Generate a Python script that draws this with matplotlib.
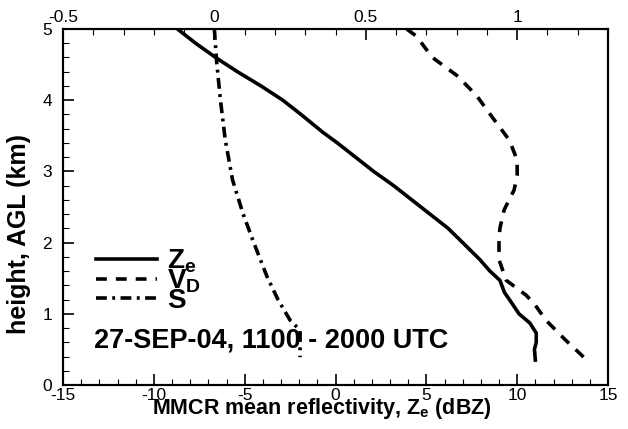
import numpy as np
import matplotlib
matplotlib.use("Agg")
import matplotlib.pyplot as plt

# Ze profile (bottom axis, dBZ)
ze_height = [5.0, 4.8, 4.6, 4.4, 4.2, 4.0, 3.8, 3.55, 3.4, 3.2, 3.0, 2.8, 2.6,
             2.4, 2.2, 2.0, 1.76, 1.6, 1.47, 1.3, 1.19, 1.0, 0.87, 0.73, 0.6, 0.5, 0.35]
ze_dbz = [-8.7, -7.7, -6.6, -5.4, -4.1, -2.9, -1.9, -0.7, 0.1, 1.1, 2.1, 3.2, 4.2,
          5.2, 6.2, 7.0, 7.95, 8.5, 9.05, 9.3, 9.6, 10.1, 10.7, 11.05, 11.05, 10.95, 11.0]

# Doppler velocity profile (top axis)
vd_height = [5.0, 4.9, 4.6, 4.35, 4.07, 3.76, 3.44, 3.16, 2.95, 2.74, 2.46, 2.2,
             2.04, 1.76, 1.47, 1.26, 1.12, 0.91, 0.63, 0.39]
vd_val = [0.635, 0.667, 0.72, 0.80, 0.865, 0.918, 0.974, 1.0, 1.0, 0.99, 0.957, 0.943,
          0.94, 0.94, 0.964, 1.03, 1.06, 1.095, 1.16, 1.22]

# S profile (top axis)
s_height = [5.0, 4.56, 4.0, 3.44, 2.88, 2.4, 2.0, 1.52, 1.2, 0.91, 0.77, 0.6, 0.39]
s_val = [0.0, 0.007, 0.02, 0.036, 0.06, 0.095, 0.13, 0.174, 0.21, 0.25, 0.283, 0.283, 0.283]

plt.rcParams['font.family'] = ['Liberation Sans', 'DejaVu Sans']
plt.rcParams['axes.unicode_minus'] = False
plt.rcParams['mathtext.fontset'] = 'custom'
plt.rcParams['mathtext.rm'] = 'Liberation Sans:bold'
plt.rcParams['mathtext.bf'] = 'Liberation Sans:bold'
plt.rcParams['mathtext.it'] = 'Liberation Sans:bold'

fig = plt.figure(figsize=(6.28, 4.29), dpi=100)
ax = fig.add_axes([63 / 628, 44 / 429, 545 / 628, 356 / 429])
ax2 = ax.twiny()

lw = 2.6
l1, = ax.plot(ze_dbz, ze_height, color='black', lw=lw, ls='-')
l2, = ax2.plot(vd_val, vd_height, color='black', lw=lw, ls=(0, (3, 2.5)))
l3, = ax2.plot(s_val, s_height, color='black', lw=lw, ls=(0, (3, 1.5, 0.8, 1.5)))

ax.set_xlim(-15, 15)
ax.set_ylim(0, 5)
ax2.set_xlim(-0.5, 1.3)

ax.set_xticks([-15, -10, -5, 0, 5, 10, 15])
ax.set_xticks(np.arange(-15, 16, 1), minor=True)
ax.set_yticks([0, 1, 2, 3, 4, 5])
ax.set_yticks(np.arange(0, 5.01, 0.2), minor=True)
ax2.set_xticks([-0.5, 0, 0.5, 1])
ax2.set_xticklabels(['-0.5', '0', '0.5', '1'])
ax2.set_xticks(np.arange(-0.5, 1.31, 0.1), minor=True)

for a in (ax, ax2):
    a.tick_params(which='major', direction='in', length=8, width=1.2, labelsize=12.5)
    a.tick_params(which='minor', direction='in', length=4, width=0.8)
    for s in a.spines.values():
        s.set_linewidth(1.5)
ax.tick_params(axis='y', which='both', right=False, pad=8)
ax.tick_params(axis='x', which='both', top=False, pad=2)
ax2.tick_params(axis='x', pad=3)

ax.set_xlabel(r'MMCR mean reflectivity, Z$_\mathregular{e}$ (dBZ)', fontsize=15.5,
              fontweight='bold')
ax.xaxis.set_label_coords(0.475, -0.03)
ax.set_ylabel('height, AGL (km)', fontsize=18, fontweight='bold')
ax.yaxis.set_label_coords(-0.058, 0.424)

ax.legend([l1, l2, l3], [r'Z$_\mathregular{e}$', r'V$_\mathregular{D}$', 'S'],
          loc='upper left', bbox_to_anchor=(0.06, 0.385), frameon=False,
          handlelength=2.2, handletextpad=0.36, labelspacing=-0.27,
          borderpad=0, borderaxespad=0,
          prop={'weight': 'bold', 'size': 20})

ax.text(-13.3, 0.63, '27-SEP-04, 1100 - 2000 UTC', fontsize=19.5, fontweight='bold',
        va='center', ha='left')

fig.savefig('out.png', dpi=100)
